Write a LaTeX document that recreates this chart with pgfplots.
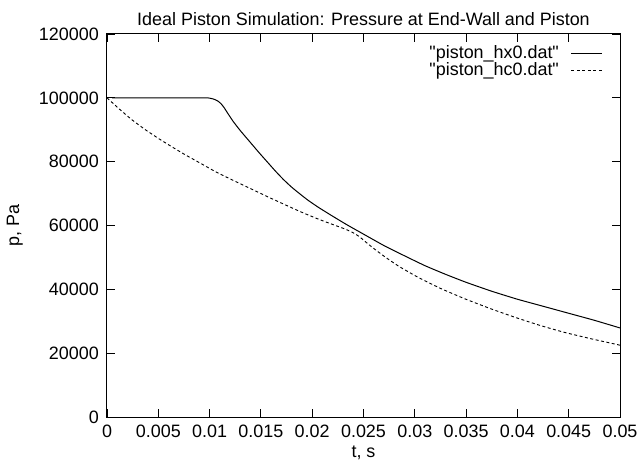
\documentclass[border=0pt]{standalone}
\usepackage{pgfplots}
\pgfplotsset{compat=1.18}
\usepackage{fontspec}
\setmainfont{Liberation Sans}[Ligatures=TeXOff]
\usetikzlibrary{calc}

% pressure at the end-wall (hx0) and at the piston (hc0)
\pgfplotstableread{
t p
0.0005 100000
0.0050 100000
0.0095 100000
0.0100 99900
0.0104 99600
0.0108 99000
0.0111 98200
0.0114 97000
0.0118 95000
0.0123 92600
0.0130 89700
0.0139 86300
0.0148 82900
0.0156 80000
0.0164 77100
0.0172 74400
0.0180 72000
0.0188 69900
0.0196 67900
0.0206 65700
0.0220 62900
0.0234 60200
0.0250 57300
0.0270 53700
0.0290 50500
0.0310 47400
0.0330 44700
0.0350 42200
0.0375 39400
0.0400 36900
0.0425 34700
0.0450 32500
0.0475 30300
0.0500 27900
}\hxzero

\pgfplotstableread{
t p
0.0000 100000
0.0012 96500
0.0024 93200
0.0037 90100
0.0050 87300
0.0063 84700
0.0076 82200
0.0090 79700
0.0105 77000
0.0120 74600
0.0139 71700
0.0160 68500
0.0188 64400
0.0206 62000
0.0221 60200
0.0232 58900
0.0240 57700
0.0246 56500
0.0253 54600
0.0262 52300
0.0273 49700
0.0285 47100
0.0303 43800
0.0325 40300
0.0349 37000
0.0375 33800
0.0398 31200
0.0422 28700
0.0446 26500
0.0472 24500
0.0500 22500
}\hczero

\begin{document}
\fontsize{18}{20}\selectfont
\begin{tikzpicture}
\begin{axis}[
  scale only axis,
  width=513bp, height=383bp,
  xmin=0, xmax=0.05, ymin=0, ymax=120000,
  xtick={0,0.005,...,0.0501},
  ytick={0,20000,...,120000},
  /pgf/number format/assume math mode=true,
  xticklabel style={/pgf/number format/fixed, /pgf/number format/precision=3},
  yticklabel style={/pgf/number format/fixed, /pgf/number format/1000 sep={}},
  scaled x ticks=false, scaled y ticks=false,
  tick align=inside,
  major tick length=8bp,
  tick style={black, line width=0.8bp},
  axis line style={line width=1bp},
  every tick label/.append style={font=\fontsize{18}{20}\selectfont},
  xticklabel style={yshift=-2bp},
  yticklabel style={xshift=-2bp},
  title={Ideal Piston Simulation: Pressure at End-Wall and Piston},
  title style={font=\fontsize{18}{20}\selectfont, yshift=-4bp},
  xlabel={t, s},
  ylabel={p, Pa},
  xlabel style={font=\fontsize{18}{20}\selectfont, yshift=4bp},
  ylabel style={font=\fontsize{18}{20}\selectfont, yshift=4bp},
  legend plot pos=right,
  legend cell align=right,
  legend style={draw=none, fill=none, at={(rel axis cs:0.967,0.975)}, anchor=north east,
    font=\fontsize{18}{20}\selectfont, row sep=-3bp, inner sep=0pt},
  legend image code/.code={\path (0bp,0bp); \draw[#1] (10bp,0bp) -- (41bp,0bp);},
]
\addplot[black, line width=1bp, smooth, tension=0.3] table[x=t, y=p] {\hxzero};
\addlegendentry{"piston\_hx0.dat"}
\addplot[black, line width=0.9bp, smooth, tension=0.3, dash pattern=on 3bp off 2.5bp] table[x=t, y=p] {\hczero};
\addlegendentry{"piston\_hc0.dat"}
\coordinate (sw) at (rel axis cs:0,0);
\coordinate (ne) at (rel axis cs:1,1);
\end{axis}
\pgfresetboundingbox
\path ($(sw)+(-107bp,-46bp)$) rectangle ($(ne)+(19bp,34bp)$);
\end{tikzpicture}
\end{document}
